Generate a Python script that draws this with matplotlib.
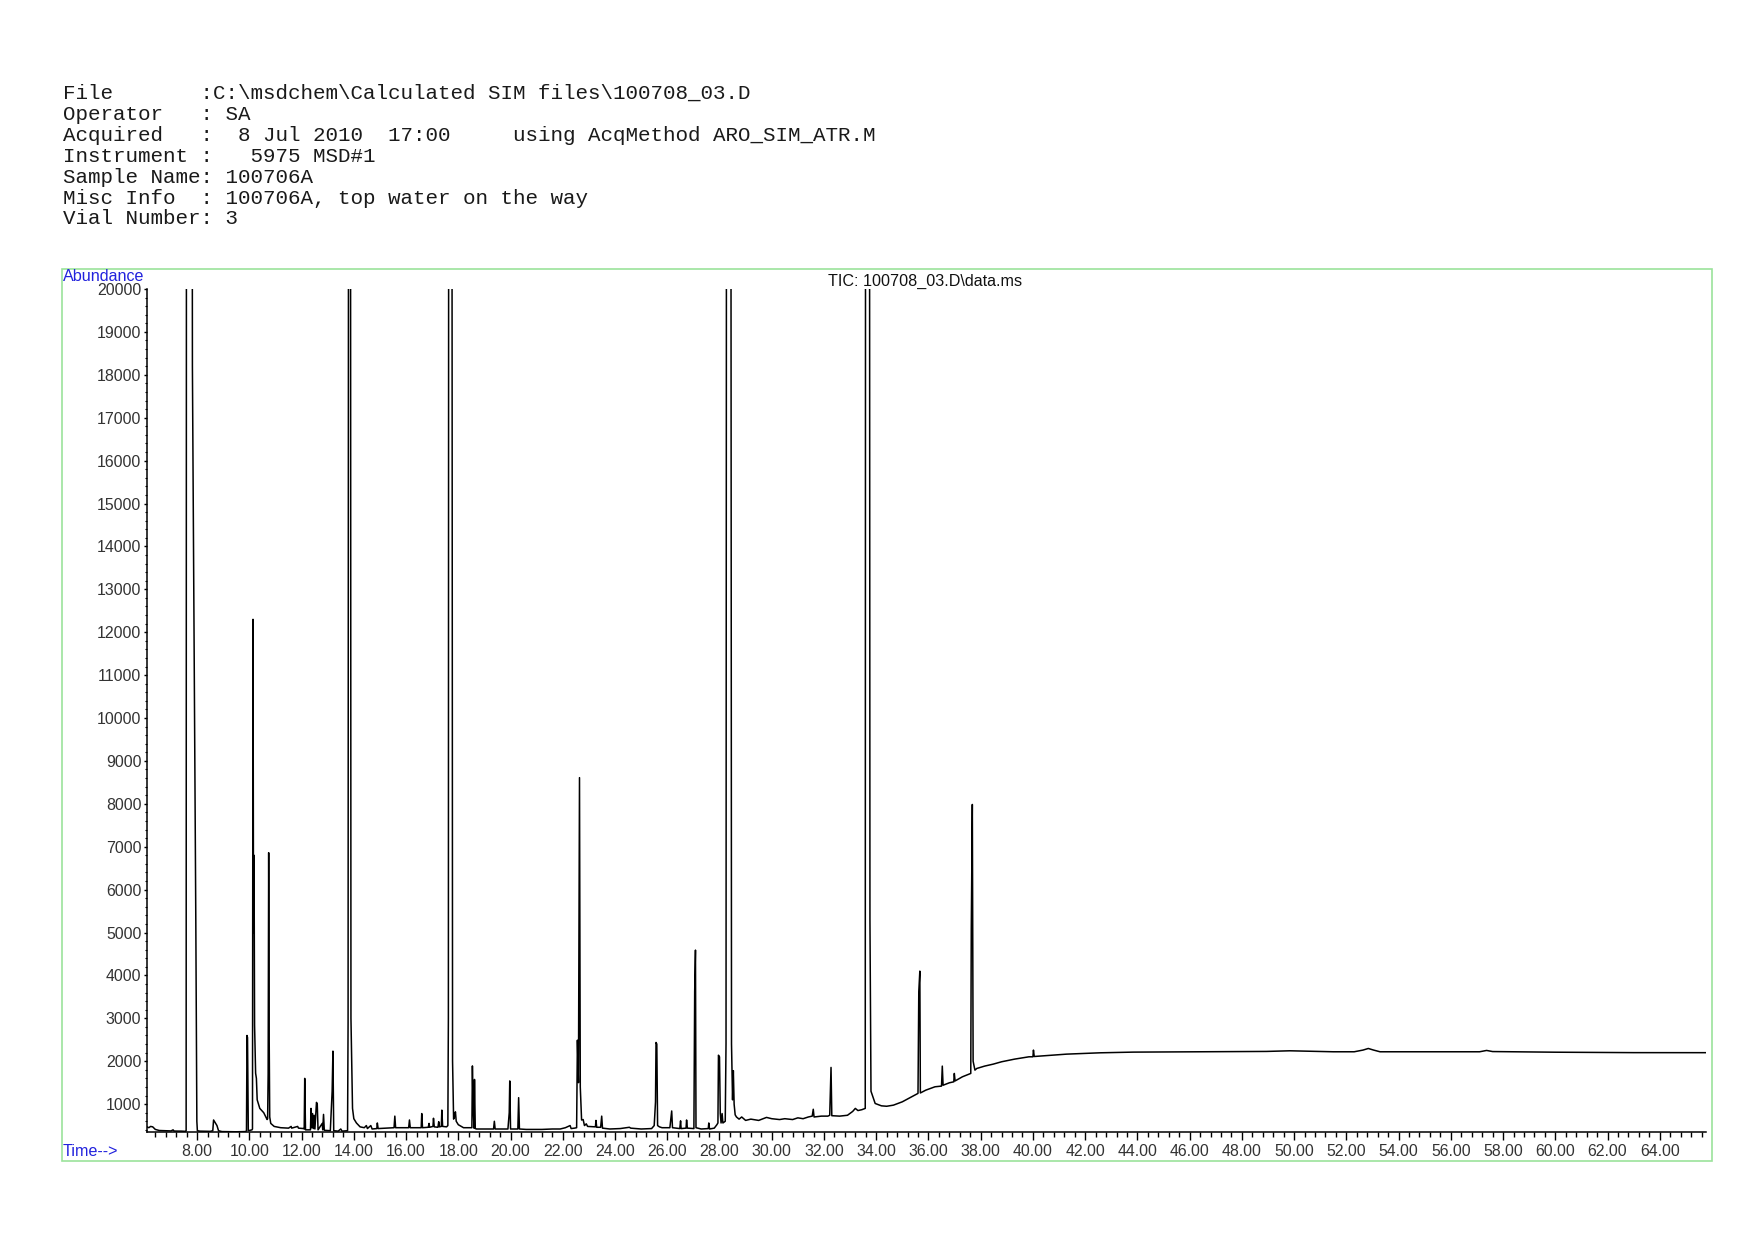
import matplotlib
matplotlib.use("Agg")
import matplotlib.pyplot as plt
from matplotlib.ticker import MultipleLocator, FormatStrFormatter
from matplotlib.patches import Rectangle

# ---------------- header text ----------------
header_lines = [
    "File       :C:\\msdchem\\Calculated SIM files\\100708_03.D",
    "Operator   : SA",
    "Acquired   :  8 Jul 2010  17:00     using AcqMethod ARO_SIM_ATR.M",
    "Instrument :   5975 MSD#1",
    "Sample Name: 100706A",
    "Misc Info  : 100706A, top water on the way",
    "Vial Number: 3",
]
chart_title = "TIC: 100708_03.D\\data.ms"
y_label = "Abundance"
x_label = "Time-->"

# ---------------- TIC trace (retention time [min], abundance) ----------------
# values above 20000 are off-scale (clipped at the top of the plot)
rt_part1 = [6.08, 6.15, 6.22, 6.30, 6.40, 6.55, 6.80, 7.00, 7.08, 7.12, 7.40, 7.56,
            7.58, 7.60, 7.79, 7.82, 7.95, 7.99, 8.01, 8.10, 8.50, 8.60, 8.63, 8.70,
            8.76, 8.82, 8.95, 9.50, 9.86, 9.89, 9.91, 9.93, 9.96, 10.10, 10.12, 10.14,
            10.16, 10.18, 10.20, 10.24, 10.27, 10.30, 10.40, 10.55, 10.68, 10.70, 10.72,
            10.74, 10.76, 10.78, 10.82, 10.95, 11.20, 11.50, 11.60, 11.62, 11.85, 11.88,
            12.08, 12.10, 12.12, 12.15, 12.34, 12.36, 12.38, 12.42, 12.45, 12.48, 12.51,
            12.57, 12.60, 12.63, 12.79, 12.81, 12.84, 12.87, 13.10, 13.17, 13.20, 13.23,
            13.40, 13.50, 13.55, 13.76, 13.78, 13.81, 13.86, 13.89, 13.95, 14.00, 14.10,
            14.24, 14.40, 14.48, 14.52, 14.65, 14.70, 14.88, 14.90, 14.93, 15.20, 15.54,
            15.57, 15.60, 16.10, 16.13, 16.16, 16.58, 16.60, 16.63, 16.85, 16.88, 16.90,
            17.03, 17.05, 17.08, 17.22, 17.25, 17.28, 17.35, 17.37, 17.40, 17.55, 17.60,
            17.62, 17.64, 17.74, 17.78, 17.82, 17.85, 17.89, 17.92, 18.00, 18.20]
ab_part1 = [470, 450, 480, 470, 410, 385, 380, 375, 400, 372, 370, 365,
            380, 40000, 40000, 18200, 5300, 600, 380, 370, 365, 380, 630, 560,
            500, 380, 360, 355, 360, 380, 2600, 2550, 380, 400, 420, 12300,
            5000, 6800, 2840, 1720, 1600, 1100, 900, 800, 640, 660, 1700,
            6860, 2480, 700, 550, 480, 450, 440, 480, 440, 480, 440,
            430, 420, 1600, 400, 400, 900, 450, 780, 430, 740, 420,
            1040, 1000, 400, 550, 400, 760, 390, 380, 1300, 2235, 380,
            370, 420, 370, 380, 2900, 40000, 40000, 3000, 900, 660, 560,
            470, 450, 500, 430, 500, 420, 430, 560, 430, 440, 450,
            720, 450, 450, 630, 450, 450, 780, 450, 460, 550, 460,
            480, 670, 470, 460, 590, 470, 480, 860, 480, 470, 500,
            3000, 40000, 40000, 2000, 650, 700, 820, 600, 520, 450]

rt_part2 = [18.50, 18.52, 18.54, 18.56, 18.60, 18.62, 18.65, 18.70, 19.00, 19.35,
            19.38, 19.41, 19.90, 19.95, 19.97, 20.00, 20.28, 20.31, 20.34, 20.60,
            21.20, 21.60, 21.90, 22.10, 22.28, 22.32, 22.45, 22.53, 22.56, 22.60,
            22.64, 22.67, 22.72, 22.78, 22.83, 22.90, 22.95, 23.25, 23.27, 23.30,
            23.45, 23.49, 23.52, 23.80, 24.20, 24.55, 24.60, 25.00, 25.40, 25.50,
            25.55, 25.57, 25.60, 25.63, 25.70, 25.80, 26.10, 26.17, 26.20, 26.48,
            26.51, 26.53, 26.72, 26.74, 26.77, 27.02, 27.05, 27.08, 27.10, 27.30,
            27.57, 27.59, 27.62, 27.80, 27.90, 27.94, 27.96, 28.00, 28.03, 28.06,
            28.10, 28.13, 28.22, 28.25, 28.28, 28.42, 28.46, 28.50, 28.53, 28.56,
            28.60, 28.65, 28.75, 28.85, 29.00, 29.20, 29.50, 29.80, 30.00, 30.30,
            30.50, 30.80, 31.00, 31.20, 31.40, 31.55, 31.59, 31.62, 31.90, 32.15,
            32.22, 32.27, 32.30, 32.60, 32.90, 33.10, 33.20, 33.30, 33.45, 33.58,
            33.60, 33.73, 33.76, 33.80, 33.96, 34.20, 34.40, 34.66, 35.00, 35.36,
            35.60, 35.63, 35.67, 35.69, 35.90, 36.25, 36.50, 36.53, 36.56, 36.80,
            36.97, 36.99, 37.02, 37.30, 37.55, 37.62, 37.64, 37.68, 37.71, 37.78,
            37.85, 38.15, 38.48, 38.80, 39.30, 39.85, 40.00, 40.02, 40.05, 41.29,
            42.57, 43.84, 46.39, 48.94, 49.84, 51.50, 52.30, 52.64, 52.84, 53.04,
            53.29, 55.32, 57.10, 57.37, 57.60, 60.00, 63.00, 65.75]
ab_part2 = [450, 450, 1890, 1130, 440, 1575, 430, 420, 420, 420,
            600, 420, 420, 800, 1540, 420, 420, 1150, 420, 410,
            410, 420, 420, 450, 500, 430, 440, 450, 2490, 1500,
            8610, 1400, 630, 640, 500, 540, 480, 470, 620, 460,
            460, 720, 440, 420, 430, 460, 440, 420, 430, 500,
            1050, 2437, 2400, 500, 470, 450, 450, 840, 450, 430,
            610, 430, 440, 630, 440, 430, 3620, 4590, 450, 420,
            430, 560, 420, 440, 520, 560, 2140, 2100, 780, 560,
            780, 560, 600, 2410, 40000, 40000, 2400, 1100, 1780, 1000,
            750, 700, 650, 700, 620, 650, 620, 690, 660, 640,
            660, 640, 680, 660, 700, 720, 880, 700, 720, 720,
            740, 1855, 730, 720, 740, 830, 900, 850, 870, 900,
            40000, 40000, 5300, 1300, 1015, 960, 950, 976, 1054, 1171,
            1250, 3620, 4100, 1260, 1326, 1404, 1420, 1886, 1440, 1497,
            1520, 1715, 1540, 1637, 1700, 1715, 5100, 7985, 2000, 1792,
            1831, 1886, 1932, 1987, 2049, 2103, 2103, 2259, 2110, 2165,
            2196, 2212, 2220, 2228, 2243, 2220, 2220, 2260, 2297, 2260,
            2220, 2220, 2220, 2251, 2225, 2210, 2200, 2199]

W, H, DPI = 1754, 1240, 100
fig = plt.figure(figsize=(W / DPI, H / DPI), dpi=DPI)
fig.patch.set_facecolor("white")

def fx(px):
    return px / W

def fy(py):
    return 1 - py / H

# header
mono = "Liberation Mono"
for i, line in enumerate(header_lines):
    fig.text(fx(63), fy(99 + i * 20.9), line, family=mono, fontsize=15.0,
             color="#1a1a1a", va="baseline", ha="left")

# green frame
fig.patches.append(Rectangle((fx(62), fy(1161)), fx(1712) - fx(62), fy(269) - fy(1161),
                             transform=fig.transFigure, fill=False,
                             edgecolor="#9be39b", linewidth=1.2))

# axes
left, right, top, bottom = 146.7, 1705.5, 289, 1132
ax = fig.add_axes([fx(left), fy(bottom), fx(right) - fx(left), fy(top) - fy(bottom)])
ax.plot(rt_part1 + rt_part2, ab_part1 + ab_part2, color="black", linewidth=1.1)
ax.set_xlim(6.07, 65.75)
ax.set_ylim(350, 20000)

for s in ("top", "right"):
    ax.spines[s].set_visible(False)
for s in ("left", "bottom"):
    ax.spines[s].set_linewidth(1.1)
    ax.spines[s].set_color("black")

ax.xaxis.set_major_locator(MultipleLocator(2))
ax.xaxis.set_minor_locator(MultipleLocator(0.4))
ax.xaxis.set_major_formatter(FormatStrFormatter("%.2f"))
ax.yaxis.set_major_locator(MultipleLocator(1000))
ax.yaxis.set_minor_locator(MultipleLocator(200))
ax.yaxis.set_major_formatter(FormatStrFormatter("%d"))

sans = "Liberation Sans"
ax.tick_params(axis="x", which="major", direction="out", length=6, width=1,
               pad=2.5, labelsize=11.4, labelcolor="#333333")
ax.tick_params(axis="x", which="minor", direction="out", length=3.6, width=1)
ax.tick_params(axis="y", which="major", direction="out", length=2.4, width=1,
               pad=1.5, labelsize=11.4, labelcolor="#333333")
ax.tick_params(axis="y", which="minor", direction="out", length=1.2, width=0.8)
for lbl in ax.get_xticklabels() + ax.get_yticklabels():
    lbl.set_family(sans)

fig.text(fx(63), fy(281), y_label, family=sans, fontsize=11.6, color="#2222dd",
         va="baseline", ha="left")
fig.text(fx(63), fy(1156), x_label, family=sans, fontsize=11.6, color="#2222dd",
         va="baseline", ha="left")
fig.text(fx(925), fy(286), chart_title, family=sans, fontsize=11.6, color="#111111",
         va="baseline", ha="center")

fig.savefig("out.png", dpi=DPI, facecolor="white")
